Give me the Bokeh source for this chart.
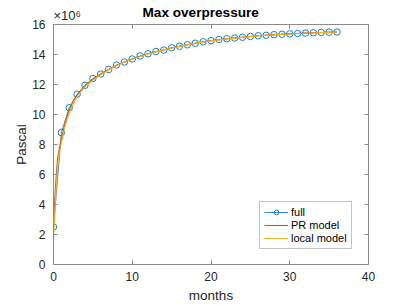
from bokeh.plotting import figure
from bokeh.models import Range1d, LinearAxis, FixedTicker, Title, Legend, LegendItem
from bokeh.embed import file_html
from bokeh.resources import INLINE

# Values in units of 10^6 Pa
months_full = list(range(0, 37))
full = [2.5, 8.8, 10.45, 11.35, 11.95, 12.4, 12.7, 13.0, 13.3, 13.5,
        13.7, 13.9, 14.05, 14.2, 14.3, 14.45, 14.55, 14.65, 14.75, 14.85,
        14.92, 15.0, 15.05, 15.1, 15.15, 15.2, 15.25, 15.28, 15.32, 15.35,
        15.38, 15.4, 15.43, 15.45, 15.47, 15.49, 15.5]

months_model = [0, 0.25, 0.5, 0.75, 1, 1.5, 2, 2.5, 3, 4, 5, 6, 7, 8, 9, 10,
                12, 14, 16, 18, 20, 22, 24, 26, 28, 30, 32, 34, 36]
pr_model = [2.8, 5.2, 7.0, 7.8, 8.4, 9.5, 10.3, 10.9, 11.3, 11.9, 12.35, 12.7,
            13.0, 13.28, 13.5, 13.7, 14.05, 14.32, 14.55, 14.75, 14.92, 15.05,
            15.15, 15.25, 15.32, 15.38, 15.43, 15.47, 15.5]
local_model = [1.5, 4.3, 6.4, 7.5, 8.1, 9.3, 10.1, 10.7, 11.2, 11.85, 12.3, 12.65,
               12.97, 13.26, 13.48, 13.68, 14.03, 14.31, 14.54, 14.74, 14.91, 15.04,
               15.14, 15.24, 15.31, 15.37, 15.42, 15.46, 15.49]

x_ticks = [0, 10, 20, 30, 40]
y_ticks = [0, 2, 4, 6, 8, 10, 12, 14, 16]

FONT = "Liberation Sans"
AX = "#8a8a8a"
TXT = "#262626"
BLUE = "#0072BD"
RED = "#D95319"
YEL = "#EDB120"

p = figure(width=407, height=305, output_backend="svg", toolbar_location=None,
           x_range=Range1d(0, 40), y_range=Range1d(0, 16),
           min_border_left=53, min_border_right=39, min_border_top=24, min_border_bottom=38)
p.outline_line_color = None
p.grid.visible = False
p.background_fill_color = "white"
p.border_fill_color = "white"

def style_axis(ax, labels=True):
    ax.axis_line_color = AX
    ax.major_tick_line_color = AX
    ax.major_tick_in = 4
    ax.major_tick_out = 0
    ax.minor_tick_line_color = None
    ax.major_label_text_font = FONT
    ax.major_label_text_font_size = "12px"
    ax.major_label_text_color = TXT
    ax.axis_label_text_font = FONT
    ax.axis_label_text_font_size = "13.5px"
    ax.axis_label_text_font_style = "normal"
    ax.axis_label_text_color = TXT
    if not labels:
        ax.major_label_text_font_size = "0px"
        ax.major_label_text_color = None

p.xaxis.ticker = FixedTicker(ticks=x_ticks)
p.yaxis.ticker = FixedTicker(ticks=y_ticks)
p.xaxis.axis_label = "months"
p.yaxis.axis_label = "Pascal"
style_axis(p.xaxis[0])
style_axis(p.yaxis[0])
p.xaxis.major_label_standoff = 7
p.xaxis.axis_label_standoff = 4
p.yaxis.major_label_standoff = 8
p.yaxis.axis_label_standoff = 0

top = LinearAxis(ticker=FixedTicker(ticks=x_ticks))
style_axis(top, labels=False)
right = LinearAxis(ticker=FixedTicker(ticks=y_ticks))
style_axis(right, labels=False)
p.add_layout(top, "above")
p.add_layout(right, "right")
top.major_label_standoff = 0
right.major_label_standoff = 0

exp_title = Title(text="×10⁶", align="left", offset=0, standoff=2.4,
                  text_font=FONT, text_font_size="13px", text_font_style="normal",
                  text_color=TXT)
p.add_layout(exp_title, "above")
main_title = Title(text="Max overpressure", align="left", offset=89, standoff=-29,
                   text_font=FONT, text_font_size="13.6px", text_font_style="bold",
                   text_color="#000000")
p.add_layout(main_title, "above")

r_full_line = p.line(months_full, full, line_color=BLUE, line_width=0.8)
r_full_pts = p.scatter(months_full, full, marker="circle", size=6.5, fill_color=None,
                       line_color=BLUE, line_width=0.9)
r_pr = p.line(months_model, pr_model, line_color=RED, line_width=1.1)
r_loc = p.line(months_model, local_model, line_color=YEL, line_width=1.1)

legend = Legend(items=[
    LegendItem(label="full", renderers=[r_full_line, r_full_pts]),
    LegendItem(label="PR model", renderers=[r_pr]),
    LegendItem(label="local model", renderers=[r_loc]),
], location=(206, 15))
legend.label_text_font = FONT
legend.label_text_font_size = "11px"
legend.label_text_color = "#000000"
legend.border_line_color = AX
legend.border_line_width = 1
legend.background_fill_alpha = 1
legend.glyph_width = 24
legend.glyph_height = 12
legend.label_height = 12
legend.spacing = 1
legend.padding = 4
legend.margin = 0
legend.label_standoff = 3
p.add_layout(legend, "center")

open("out.html", "w").write(file_html(p, INLINE))
